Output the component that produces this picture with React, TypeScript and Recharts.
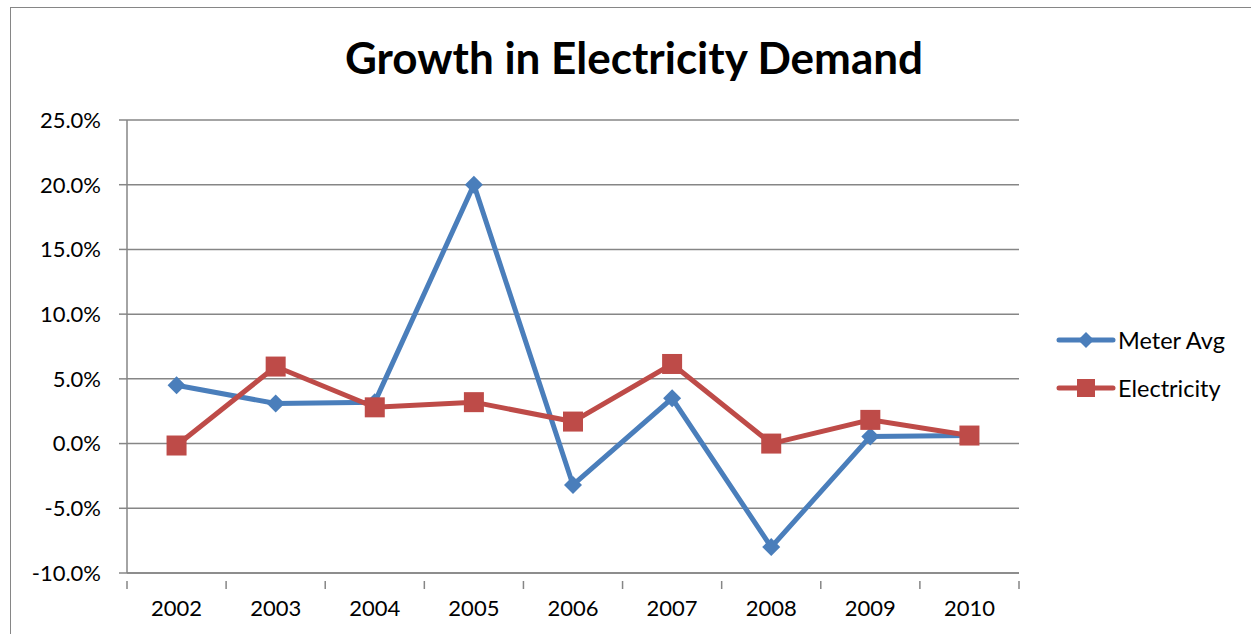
import React from 'react';
import { LineChart, Line, XAxis, YAxis, CartesianGrid } from 'recharts';

const years = ['2002', '2003', '2004', '2005', '2006', '2007', '2008', '2009', '2010'];
const meterAvg = [0.045, 0.031, 0.032, 0.200, -0.032, 0.035, -0.080, 0.0055, 0.0062];
const electricity = [-0.0015, 0.0595, 0.028, 0.032, 0.017, 0.0615, 0.0, 0.0183, 0.0062];
const yTicks = [-0.1, -0.05, 0, 0.05, 0.1, 0.15, 0.2, 0.25];

const data = years.map((year, i) => ({ year, meterAvg: meterAvg[i], electricity: electricity[i] }));

const BLUE = '#4A7EBB';
const RED = '#BE4B48';
const AXIS = '#868686';
const FONT = 'Lato, "Open Sans", sans-serif';

const W = 1251;
const H = 634;
const PLOT_LEFT = 127;
const PLOT_RIGHT = 1019;
const BAND = (PLOT_RIGHT - PLOT_LEFT) / years.length;

const Diamond = (props: any) => {
  const { cx, cy } = props;
  if (cx == null || cy == null) return null;
  const r = 9;
  return <path d={`M${cx},${cy - r}L${cx + r},${cy}L${cx},${cy + r}L${cx - r},${cy}Z`} fill={BLUE} />;
};

const Square = (props: any) => {
  const { cx, cy } = props;
  if (cx == null || cy == null) return null;
  const s = 10;
  return <rect x={cx - s} y={cy - s} width={2 * s} height={2 * s} fill={RED} />;
};

// category label with tick marks on the band boundaries
const XTick = (props: any) => {
  const { x, y, payload, index } = props;
  const half = BAND / 2;
  const last = index === years.length - 1;
  return (
    <g>
      <line x1={x - half} x2={x - half} y1={y} y2={y + 8} stroke={AXIS} strokeWidth={1.5} />
      {last && <line x1={x + half} x2={x + half} y1={y} y2={y + 8} stroke={AXIS} strokeWidth={1.5} />}
      <text x={x} y={y + 35} textAnchor="middle" fill="#000" fontSize={22} fontFamily={FONT}>
        {payload.value}
      </text>
    </g>
  );
};

const legendItems = [
  { label: 'Meter Avg', color: BLUE, kind: 'diamond' },
  { label: 'Electricity', color: RED, kind: 'square' },
];

const LegendBox = () => (
  <div style={{ position: 'absolute', left: 1056, top: 316, fontFamily: FONT, fontSize: 23.5 }}>
    {legendItems.map((it) => (
      <div key={it.label} style={{ display: 'flex', alignItems: 'center', height: 48 }}>
        <svg width={60} height={24} style={{ marginRight: 2 }}>
          <line x1={3} x2={57} y1={12} y2={12} stroke={it.color} strokeWidth={5} strokeLinecap="round" />
          {it.kind === 'diamond' ? (
            <path d="M30,4L38,12L30,20L22,12Z" fill={it.color} />
          ) : (
            <rect x={21} y={3} width={18} height={18} fill={it.color} />
          )}
        </svg>
        <span style={{ color: '#000' }}>{it.label}</span>
      </div>
    ))}
  </div>
);

export default function App() {
  return (
    <div style={{ position: 'absolute', left: 0, top: 0, width: W, height: H, overflow: 'hidden', background: '#fff' }}>
      <div
        style={{
          position: 'absolute',
          left: 10,
          top: 7,
          width: W + 100,
          height: H + 100,
          border: `1.5px solid ${AXIS}`,
          boxSizing: 'border-box',
        }}
      />
      <div
        style={{
          position: 'absolute',
          left: 0,
          top: 31,
          width: 1268,
          textAlign: 'center',
          fontFamily: FONT,
          fontWeight: 700,
          fontSize: 44,
          lineHeight: '52px',
          color: '#000',
        }}
      >
        Growth in Electricity Demand
      </div>
      <div style={{ position: 'absolute', left: 0, top: 0 }}>
        <LineChart width={W} height={H} data={data} margin={{ top: 120, right: W - PLOT_RIGHT, bottom: 11, left: 0 }}>
          <CartesianGrid vertical={false} stroke={AXIS} strokeWidth={1.5} />
          <XAxis
            dataKey="year"
            height={50}
            padding={{ left: BAND / 2, right: BAND / 2 }}
            axisLine={{ stroke: AXIS, strokeWidth: 1.5 }}
            tickLine={false}
            tick={<XTick />}
            interval={0}
          />
          <YAxis
            width={PLOT_LEFT}
            domain={[-0.1, 0.25]}
            ticks={yTicks}
            interval={0}
            axisLine={{ stroke: AXIS, strokeWidth: 1.5 }}
            tickLine={{ stroke: AXIS, strokeWidth: 1.5 }}
            tickSize={8}
            tickMargin={18}
            tick={{ fill: '#000', fontSize: 22, fontFamily: FONT }}
            tickFormatter={(v: number) => `${(v * 100).toFixed(1)}%`}
          />
          <Line
            type="linear"
            dataKey="meterAvg"
            name="Meter Avg"
            stroke={BLUE}
            strokeWidth={5}
            dot={<Diamond />}
            activeDot={false}
            isAnimationActive={false}
          />
          <Line
            type="linear"
            dataKey="electricity"
            name="Electricity"
            stroke={RED}
            strokeWidth={5}
            dot={<Square />}
            activeDot={false}
            isAnimationActive={false}
          />
        </LineChart>
      </div>
      <LegendBox />
    </div>
  );
}
